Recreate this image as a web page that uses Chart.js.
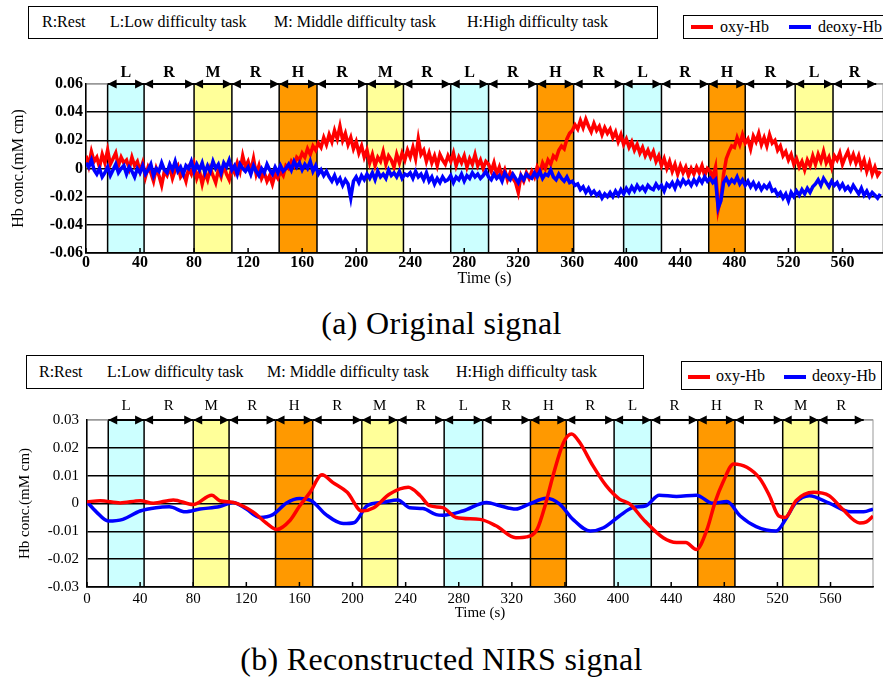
<!DOCTYPE html>
<html>
<head>
<meta charset="utf-8">
<script src="https://cdn.jsdelivr.net/npm/chart.js@4.4.1/dist/chart.umd.min.js"></script>
<style>
  body { margin: 0; background: #fff; width: 883px; height: 677px; position: relative; overflow: hidden; font-family: "Liberation Serif", "Times New Roman", Times, "DejaVu Serif", serif; color: #000; }
  .box { position: absolute; border: 1.5px solid #000; box-sizing: border-box; background: #fff; }
  .item { position: absolute; font-size: 16px; line-height: 18px; white-space: nowrap; }
  .swatch { position: absolute; height: 4px; width: 22px; }
  canvas { position: absolute; left: 0; }
  .caption { position: absolute; left: 0; width: 883px; text-align: center; font-size: 32px; line-height: 36px; letter-spacing: 0.3px; }
</style>
</head>
<body>

<!-- (a) key + legend -->
<div class="box" style="left:28px; top:6px; width:630px; height:33px;"></div>
<span class="item" style="left:42px; top:13px;">R:Rest</span>
<span class="item" style="left:110px; top:13px;">L:Low difficulty task</span>
<span class="item" style="left:274px; top:13px;">M:&nbsp;Middle difficulty task</span>
<span class="item" style="left:467px; top:13px;">H:High difficulty task</span>

<div class="box" style="left:683px; top:15px; width:215px; height:24px;"></div>
<div class="swatch" style="left:691px; top:25px; background:#ff0000;"></div>
<span class="item" style="left:720px; top:18px;">oxy-Hb</span>
<div class="swatch" style="left:789px; top:25px; background:#0000ff;"></div>
<span class="item" style="left:818px; top:18px;">deoxy-Hb</span>

<canvas id="chartOriginal" width="883" height="250" style="top:44px;"></canvas>
<div class="caption" style="top:305px;">(a) Original signal</div>

<!-- (b) key + legend -->
<div class="box" style="left:26px; top:355px; width:618px; height:34px;"></div>
<span class="item" style="left:39px; top:363px;">R:Rest</span>
<span class="item" style="left:107px; top:363px;">L:Low difficulty task</span>
<span class="item" style="left:267px; top:363px;">M:&nbsp;Middle difficulty task</span>
<span class="item" style="left:456px; top:363px;">H:High difficulty task</span>

<div class="box" style="left:681px; top:361px; width:201px; height:29px;"></div>
<div class="swatch" style="left:688px; top:375px; background:#ff0000;"></div>
<span class="item" style="left:716px; top:367px;">oxy-Hb</span>
<div class="swatch" style="left:784px; top:375px; background:#0000ff;"></div>
<span class="item" style="left:812px; top:367px;">deoxy-Hb</span>

<canvas id="chartReconstructed" width="883" height="231" style="top:392px;"></canvas>
<div class="caption" style="top:641px;">(b) Reconstructed NIRS signal</div>

<script>
// ---- data ----
const xTicks = [0, 40, 80, 120, 160, 200, 240, 280, 320, 360, 400, 440, 480, 520, 560];

// task / rest segments (s) and what is written above each arrow
const edgesOriginal = [16, 43, 80, 108, 143, 171, 208, 235, 270, 298, 334, 361, 398, 426, 461, 488, 525, 553, 585];
const edgesReconstructed = [16, 43, 80, 107, 142, 170, 207, 234, 269, 298, 334, 361, 397, 425, 460, 488, 524, 551, 585];
const segLabelsOriginal = ['L','R','M','R','H','R','M','R','L','R','H','R','L','R','H','R','L','R'];
const segLabelsReconstructed = ['L','R','M','R','H','R','M','R','L','R','H','R','L','R','H','R','M','R'];
// shading of the task blocks (last block of (a) is yellow in the figure)
const blockKindsOriginal = ['L','M','H','M','L','H','L','H','M'];
const blockKindsReconstructed = ['L','M','H','M','L','H','L','H','M'];

// (a) raw signal, one sample every 2 s from 0 s (15 samples = 30 s per row)
const rawStep = 2;
const rawOxy = [
  0.009, 0.002, 0.012, 0.005, 0.008, 0.001, 0.010, 0.004, 0.013, 0.003, 0.007, 0.011, 0.002, 0.008, 0.004,
  0.006, 0.000, 0.008, 0.002, 0.005, -0.002, 0.004, -0.006, 0.001, -0.003, -0.009, 0.000, -0.005, -0.012, -0.002,
  -0.005, 0.001, -0.007, -0.001, 0.002, -0.006, -0.003, -0.009, 0.000, -0.004, 0.003, -0.007, -0.002, -0.011, -0.003,
  -0.008, 0.000, -0.005, -0.010, -0.001, -0.006, 0.002, -0.004, -0.008, 0.001, -0.003, 0.004, -0.002, 0.009, 0.001,
  0.005, -0.002, 0.007, -0.004, 0.002, -0.007, -0.003, -0.009, -0.005, -0.011, -0.004, -0.007, -0.002, -0.005, 0.002,
  0.000, 0.005, 0.002, 0.008, 0.006, 0.011, 0.008, 0.014, 0.010, 0.016, 0.013, 0.018, 0.015, 0.022, 0.017,
  0.024, 0.019, 0.027, 0.021, 0.030, 0.020, 0.025, 0.017, 0.022, 0.014, 0.019, 0.011, 0.016, 0.008, 0.013,
  0.004, 0.010, 0.002, 0.008, 0.005, 0.012, 0.003, 0.009, 0.006, 0.001, 0.010, 0.004, 0.011, 0.006, 0.013,
  0.008, 0.015, 0.007, 0.021, 0.010, 0.013, 0.005, 0.011, 0.004, 0.009, 0.002, 0.010, 0.006, 0.003, 0.009,
  0.005, 0.011, 0.002, 0.008, 0.004, 0.009, 0.001, 0.007, 0.003, 0.010, 0.002, 0.006, 0.000, 0.005, 0.003,
  -0.002, 0.004, -0.004, 0.001, -0.006, -0.001, -0.008, -0.003, -0.007, -0.010, -0.017, -0.005, -0.009, -0.003, -0.007,
  -0.002, -0.006, 0.001, -0.003, 0.004, 0.000, 0.006, 0.003, 0.009, 0.007, 0.013, 0.016, 0.014, 0.021, 0.025,
  0.027, 0.031, 0.028, 0.034, 0.029, 0.035, 0.030, 0.026, 0.032, 0.027, 0.030, 0.024, 0.029, 0.025, 0.028,
  0.022, 0.026, 0.019, 0.024, 0.017, 0.021, 0.015, 0.019, 0.013, 0.017, 0.011, 0.015, 0.009, 0.013, 0.008,
  0.012, 0.005, 0.009, 0.002, 0.007, 0.000, 0.005, -0.002, 0.003, -0.004, 0.002, -0.003, 0.001, -0.005, 0.000,
  -0.004, 0.001, -0.003, 0.002, -0.005, 0.000, -0.002, -0.006, 0.001, -0.029, -0.020, -0.004, 0.007, 0.012, 0.016,
  0.015, 0.022, 0.017, 0.024, 0.018, 0.021, 0.014, 0.023, 0.019, 0.025, 0.017, 0.022, 0.016, 0.024, 0.018,
  0.020, 0.013, 0.016, 0.009, 0.012, 0.006, 0.010, 0.003, 0.007, 0.001, 0.005, -0.001, 0.006, 0.002, 0.009,
  0.003, 0.010, 0.005, 0.012, 0.004, 0.008, 0.001, 0.009, 0.006, 0.011, 0.003, 0.008, 0.012, 0.005, 0.010,
  0.004, 0.009, 0.001, 0.006, -0.002, 0.004, -0.004, 0.001, -0.005, -0.002
];
const rawDeoxy = [
  0.004, 0.001, 0.006, -0.001, -0.004, 0.000, -0.006, -0.003, 0.001, -0.005, -0.001, 0.003, -0.003, 0.000, 0.002,
  -0.004, 0.001, -0.002, -0.006, 0.000, -0.003, 0.002, -0.004, -0.001, 0.003, -0.005, 0.000, -0.002, 0.004, -0.001,
  -0.003, 0.003, -0.001, 0.005, -0.002, 0.001, -0.004, 0.002, 0.000, 0.005, -0.002, 0.003, -0.001, 0.004, -0.003,
  0.002, -0.002, 0.005, 0.000, 0.003, -0.003, 0.004, 0.001, 0.006, -0.001, 0.002, -0.004, 0.003, 0.000, -0.002,
  0.001, -0.004, 0.002, -0.002, -0.005, 0.000, -0.003, 0.003, -0.001, -0.004, 0.001, -0.003, 0.002, -0.002, 0.000,
  0.003, -0.001, 0.005, 0.001, 0.004, -0.001, 0.003, 0.000, 0.005, -0.002, 0.002, -0.004, -0.001, -0.005, -0.002,
  -0.006, -0.009, -0.005, -0.010, -0.007, -0.012, -0.008, -0.011, -0.021, -0.009, -0.006, -0.010, -0.005, -0.008, -0.004,
  -0.007, -0.003, -0.008, -0.002, -0.006, -0.004, -0.007, -0.001, -0.005, -0.003, -0.006, -0.002, -0.007, -0.004, -0.005,
  -0.003, -0.007, -0.002, -0.006, -0.004, -0.008, -0.003, -0.009, -0.006, -0.011, -0.007, -0.010, -0.006, -0.009, -0.008,
  -0.005, -0.010, -0.006, -0.008, -0.004, -0.009, -0.005, -0.007, -0.003, -0.006, -0.004, -0.007, -0.005, -0.002, -0.006,
  -0.008, -0.004, -0.007, -0.005, -0.009, -0.003, -0.006, -0.008, -0.004, -0.007, -0.010, -0.005, -0.008, -0.004, -0.006,
  -0.007, -0.003, -0.006, -0.002, -0.007, -0.004, -0.005, -0.001, -0.006, -0.008, -0.004, -0.007, -0.009, -0.006, -0.010,
  -0.009, -0.012, -0.011, -0.015, -0.013, -0.017, -0.014, -0.018, -0.016, -0.019, -0.017, -0.021, -0.018, -0.020, -0.017,
  -0.020, -0.016, -0.019, -0.015, -0.018, -0.014, -0.017, -0.013, -0.016, -0.012, -0.015, -0.013, -0.016, -0.012, -0.014,
  -0.015, -0.011, -0.014, -0.012, -0.016, -0.011, -0.013, -0.010, -0.014, -0.009, -0.012, -0.008, -0.011, -0.009, -0.012,
  -0.008, -0.011, -0.007, -0.010, -0.006, -0.009, -0.007, -0.010, -0.008, -0.028, -0.023, -0.010, -0.007, -0.011, -0.008,
  -0.010, -0.006, -0.011, -0.008, -0.012, -0.009, -0.013, -0.010, -0.014, -0.011, -0.015, -0.012, -0.014, -0.011, -0.016,
  -0.015, -0.019, -0.017, -0.021, -0.018, -0.023, -0.017, -0.020, -0.016, -0.019, -0.015, -0.018, -0.014, -0.017, -0.013,
  -0.011, -0.008, -0.012, -0.007, -0.010, -0.013, -0.009, -0.012, -0.010, -0.014, -0.011, -0.015, -0.013, -0.016, -0.012,
  -0.015, -0.018, -0.014, -0.019, -0.016, -0.020, -0.017, -0.019, -0.021, -0.018
];

// (b) reconstructed signal, read at the turning points of the curves
const recOxyTime = [0, 10, 25, 40, 50, 65, 80, 94, 100, 110, 125, 135, 143, 153, 160, 168, 177, 185, 196, 207,
  216, 228, 242, 251, 258, 268, 278, 296, 308, 323, 331, 339, 345, 351, 359, 365, 371, 381, 391, 401,
  409, 419, 434, 444, 451, 459, 467, 473, 479, 487, 497, 507, 514, 521, 526, 534, 547, 559, 569, 582, 587, 592];
const recOxy = [0.0006, 0.001, 0.0002, 0.001, 0.0001, 0.0013, -0.0004, 0.003, 0.001, 0.0004,
  -0.003, -0.007, -0.0093, -0.006, -0.001, 0.004, 0.0103, 0.0076, 0.004, -0.0027,
  -0.0015, 0.0034, 0.0058, 0.0028, -0.0008, -0.0015, -0.005, -0.0057, -0.008, -0.0123,
  -0.012, -0.0093, -0.0008, 0.01, 0.022, 0.025, 0.022, 0.0136, 0.0064, 0.0016,
  -0.0002, -0.0057, -0.0123, -0.014, -0.014, -0.0165, -0.0093, 0.0004, 0.0076, 0.0142,
  0.013, 0.0088, 0.0028, -0.0045, -0.005, 0.001, 0.004, 0.0028, -0.002, -0.007, -0.0066, -0.0045];
const recDeoxyTime = [0, 7, 16, 27, 40, 52, 62, 74, 85, 100, 110, 120, 130, 140, 150, 160, 169, 180, 193, 201,
  211, 223, 234, 243, 253, 263, 268, 283, 301, 311, 323, 333, 346, 356, 366, 379, 389, 401, 411, 421,
  431, 444, 459, 471, 482, 492, 504, 519, 527, 534, 544, 559, 575, 585, 592];
const recDeoxy = [0.0006, -0.003, -0.0063, -0.0057, -0.0027, -0.0015, -0.0012, -0.003, -0.002, -0.0011,
  0.0004, -0.002, -0.005, -0.004, 0.0001, 0.0018, 0.001, -0.004, -0.0072, -0.0069,
  -0.0008, 0.0004, 0.0013, -0.0015, -0.0018, -0.004, -0.0042, -0.0027, 0.0004, -0.0008,
  -0.002, -0.0002, 0.0019, -0.0002, -0.0057, -0.0099, -0.0087, -0.0045, -0.0015, -0.0008,
  0.003, 0.0025, 0.003, 0.0001, 0.0007, -0.0045, -0.0083, -0.0099, -0.005, 0.0004,
  0.0028, 0.0001, -0.003, -0.003, -0.002];

const blockColors = { L: '#ccffff', M: '#ffff99', H: '#ff9900' };
const serif = '"Liberation Serif", "Times New Roman", Times, "DejaVu Serif", serif';

// draws the shaded task blocks, the arrow row on top and the inner x ticks
function makeTaskPlugin(edges, labels, kinds, labelFont, labelGap) {
  return {
    id: 'tasks',
    beforeDraw(chart) {
      const { ctx, chartArea: a, scales: { x } } = chart;
      ctx.save();
      ctx.strokeStyle = '#999';
      ctx.lineWidth = 1;
      ctx.strokeRect(a.left, a.top, a.right - a.left, a.bottom - a.top);
      kinds.forEach((k, i) => {
        const x1 = x.getPixelForValue(edges[2 * i]);
        const x2 = x.getPixelForValue(edges[2 * i + 1]);
        ctx.fillStyle = blockColors[k];
        ctx.fillRect(x1, a.top, x2 - x1, a.bottom - a.top);
        ctx.strokeStyle = '#000';
        ctx.lineWidth = 1.5;
        ctx.beginPath();
        ctx.moveTo(x1, a.top); ctx.lineTo(x1, a.bottom);
        ctx.moveTo(x2, a.top); ctx.lineTo(x2, a.bottom);
        ctx.stroke();
      });
      ctx.restore();
    },
    afterDraw(chart) {
      const { ctx, chartArea: a, scales: { x } } = chart;
      const y = a.top;
      ctx.save();
      ctx.strokeStyle = '#000';
      ctx.fillStyle = '#000';
      ctx.lineWidth = 2;
      ctx.font = labelFont;
      ctx.textAlign = 'center';
      ctx.textBaseline = 'middle';
      labels.forEach((lab, i) => {
        const x1 = x.getPixelForValue(edges[i]);
        const x2 = x.getPixelForValue(edges[i + 1]);
        ctx.beginPath();
        ctx.moveTo(x1, y); ctx.lineTo(x2, y);
        ctx.stroke();
        ctx.beginPath();
        ctx.moveTo(x1, y); ctx.lineTo(x1 + 9, y - 4.5); ctx.lineTo(x1 + 9, y + 4.5); ctx.closePath();
        ctx.moveTo(x2, y); ctx.lineTo(x2 - 9, y - 4.5); ctx.lineTo(x2 - 9, y + 4.5); ctx.closePath();
        ctx.fill();
        ctx.fillText(lab, (x1 + x2) / 2, y - labelGap);
      });
      // small ticks pointing into the plot
      ctx.lineWidth = 1.5;
      xTicks.forEach(v => {
        const px = x.getPixelForValue(v);
        ctx.beginPath();
        ctx.moveTo(px, a.bottom); ctx.lineTo(px, a.bottom - 5);
        ctx.stroke();
      });
      ctx.restore();
    }
  };
}

function fmtTick(v) {
  return Math.abs(v) < 1e-9 ? '0' : v.toFixed(2);
}

function renderChart(canvasId, setup) {
  const ctx = document.getElementById(canvasId).getContext('2d');
  return new Chart(ctx, {
    type: 'line',
    data: { datasets: setup.datasets },
    plugins: [makeTaskPlugin(setup.edges, setup.labels, setup.kinds, setup.labelFont, setup.labelGap)],
    options: {
      responsive: false,
      animation: false,
      devicePixelRatio: 1,
      layout: { padding: { top: setup.padTop, right: setup.padRight, left: 0, bottom: 0 } },
      elements: { point: { radius: 0 } },
      plugins: { legend: { display: false }, tooltip: { enabled: false } },
      scales: {
        x: {
          type: 'linear',
          min: 0,
          max: setup.xMax,
          afterBuildTicks: scale => { scale.ticks = xTicks.map(v => ({ value: v })); },
          afterFit: scale => { scale.height = setup.xAxisHeight; },
          grid: { display: false, drawTicks: false },
          border: { color: '#000', width: 1.5 },
          ticks: { color: '#000', font: setup.tickFont, padding: setup.xTickPad, maxRotation: 0, autoSkip: false },
          title: { display: true, text: 'Time (s)', color: '#000', font: setup.titleFont, padding: { top: 0, bottom: setup.xTitlePad } }
        },
        y: {
          min: setup.yMin,
          max: setup.yMax,
          afterFit: scale => { scale.width = setup.yAxisWidth; },
          ticks: { stepSize: setup.yStep, color: '#000', font: setup.tickFont, padding: setup.yTickPad, callback: fmtTick },
          grid: {
            drawTicks: false,
            lineWidth: 1.5,
            color: c => (c.tick && Math.abs(c.tick.value - setup.yMax) < 1e-9) ? '#999' : '#000'
          },
          border: { color: '#000', width: 1.5 },
          title: { display: true, text: 'Hb conc.(mM cm)', color: '#000', font: setup.titleFont, padding: { top: setup.yTitlePad, bottom: 0 } }
        }
      }
    }
  });
}

// (a) original signal
renderChart('chartOriginal', {
  datasets: [
    { label: 'deoxy-Hb', data: rawDeoxy.map((v, i) => ({ x: i * rawStep, y: v })), borderColor: '#0000ff', borderWidth: 3.5, tension: 0 },
    { label: 'oxy-Hb', data: rawOxy.map((v, i) => ({ x: i * rawStep, y: v })), borderColor: '#ff0000', borderWidth: 3.5, tension: 0 }
  ],
  edges: edgesOriginal, labels: segLabelsOriginal, kinds: blockKindsOriginal,
  labelFont: 'bold 16px ' + serif, labelGap: 11,
  padTop: 40, padRight: 0, xMax: 590,
  yMin: -0.06, yMax: 0.06, yStep: 0.02,
  xAxisHeight: 41, yAxisWidth: 86,
  tickFont: { family: serif, size: 16, weight: 'bold' },
  titleFont: { family: serif, size: 16 },
  xTickPad: 0, yTickPad: 3, xTitlePad: 6, yTitlePad: 9
});

// (b) reconstructed NIRS signal
renderChart('chartReconstructed', {
  datasets: [
    { label: 'oxy-Hb', data: recOxyTime.map((t, i) => ({ x: t, y: recOxy[i] })), borderColor: '#ff0000', borderWidth: 3.5, tension: 0.4, cubicInterpolationMode: 'monotone' },
    { label: 'deoxy-Hb', data: recDeoxyTime.map((t, i) => ({ x: t, y: recDeoxy[i] })), borderColor: '#0000ff', borderWidth: 3.5, tension: 0.4, cubicInterpolationMode: 'monotone' }
  ],
  edges: edgesReconstructed, labels: segLabelsReconstructed, kinds: blockKindsReconstructed,
  labelFont: '15px ' + serif, labelGap: 14,
  padTop: 28, padRight: 10, xMax: 592,
  yMin: -0.03, yMax: 0.03, yStep: 0.01,
  xAxisHeight: 36, yAxisWidth: 87,
  tickFont: { family: serif, size: 15 },
  titleFont: { family: serif, size: 15 },
  xTickPad: 3, yTickPad: 8, xTitlePad: 1, yTitlePad: 16
});
</script>
</body>
</html>
